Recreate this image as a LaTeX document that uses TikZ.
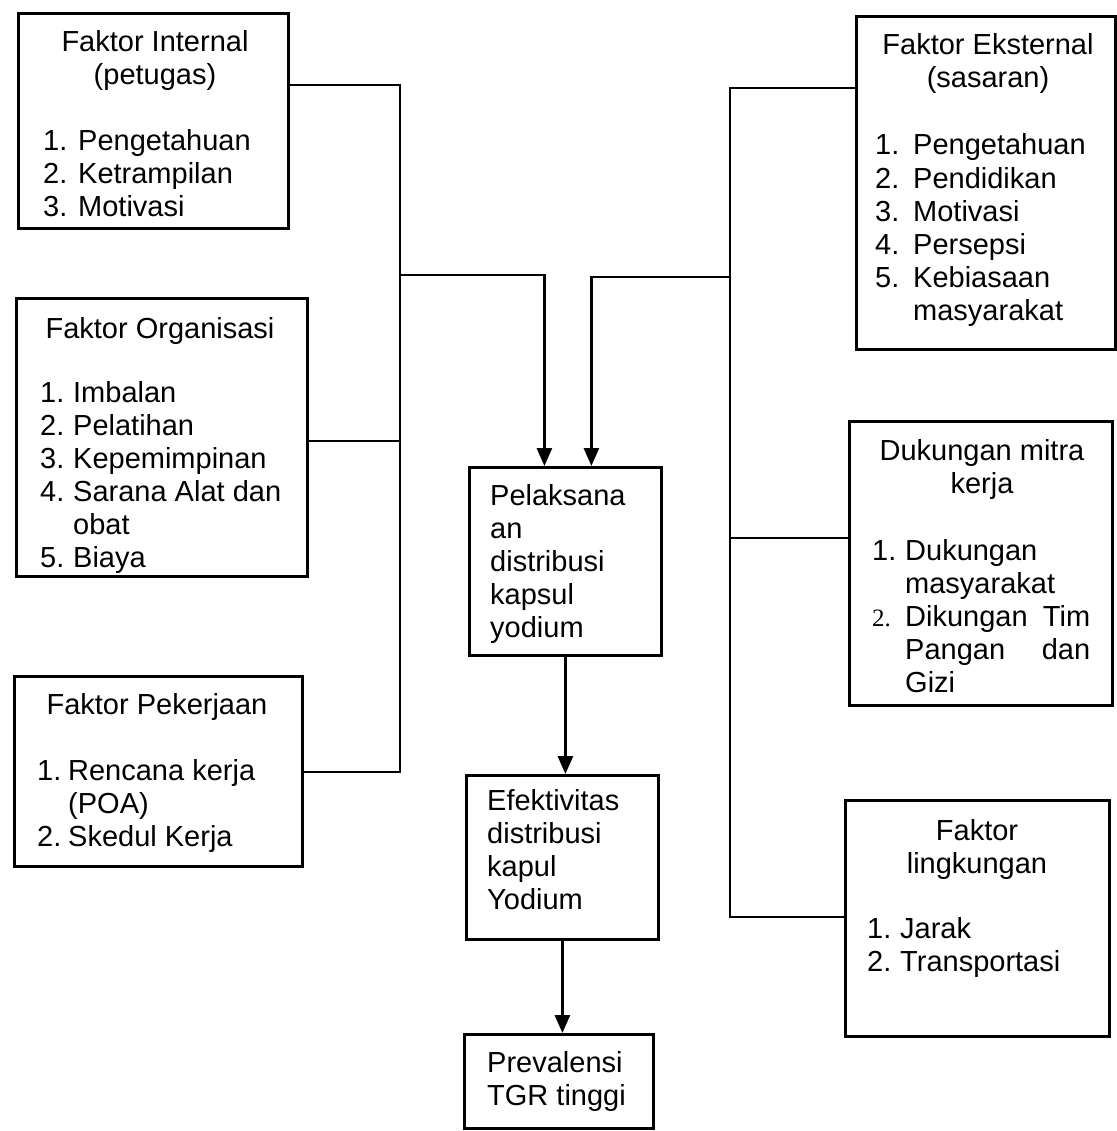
\documentclass[tikz,border=0pt]{standalone}
\usepackage{fontspec}
\setmainfont{Liberation Sans}
\newfontfamily\numserif{Liberation Serif}
\usetikzlibrary{arrows.meta}
% fixed-width slot for a list number
\newcommand\numlbl[2]{\makebox[#1pt][l]{#2}}
\begin{document}
% text nodes are placed by the baseline of their last line
\begin{tikzpicture}[x=1pt,y=-1pt,
  box/.style={draw,line width=2.8pt,rectangle,inner sep=0pt,anchor=north west},
  txt/.style={inner sep=0pt,anchor=base west,align=left,font=\fontsize{29}{33}\selectfont},
  ttl/.style={inner sep=0pt,anchor=base,align=center,font=\fontsize{29}{33}\selectfont},
  link/.style={line width=2.8pt},
  arr/.style={line width=2.8pt,-{Triangle[length=18pt,width=15pt]}}]
\useasboundingbox (0,0) rectangle (1116,1131);

% ---------- left column ----------
\node[box,minimum width=270pt,minimum height=215pt] (int) at (17,12) {};
\node[ttl] (intT) at (155,85) {Faktor Internal\\(petugas)};
\node[txt] (intL) at (43,217) {\numlbl{35}{1.}Pengetahuan\\\numlbl{35}{2.}Ketrampilan\\\numlbl{35}{3.}Motivasi};

\node[box,minimum width=291pt,minimum height=278pt] (org) at (15,297) {};
\node[ttl] (orgT) at (160,338) {Faktor Organisasi};
\node[txt] (orgL) at (40,567) {\numlbl{33}{1.}Imbalan\\\numlbl{33}{2.}Pelatihan\\\numlbl{33}{3.}Kepemimpinan\\\numlbl{33}{4.}Sarana Alat dan\\\hspace*{33pt}obat\\\numlbl{33}{5.}Biaya};

\node[box,minimum width=288pt,minimum height=190pt] (pek) at (13,675) {};
\node[ttl] (pekT) at (157,714) {Faktor Pekerjaan};
\node[txt] (pekL) at (37,846) {\numlbl{31}{1.}Rencana kerja\\\hspace*{31pt}(POA)\\\numlbl{31}{2.}Skedul Kerja};

% ---------- centre column ----------
\node[box,minimum width=192pt,minimum height=188pt] (pel) at (468,466) {};
\node[txt] (pelT) at (490,637) {Pelaksana\\an\\distribusi\\kapsul\\yodium};

\node[box,minimum width=192pt,minimum height=164pt] (efe) at (465,774) {};
\node[txt] (efeT) at (487,909) {Efektivitas\\distribusi\\kapul\\Yodium};

\node[box,minimum width=189pt,minimum height=94pt] (pre) at (463,1033) {};
\node[txt] (preT) at (487,1105) {Prevalensi\\TGR tinggi};

% ---------- right column ----------
\node[box,minimum width=259pt,minimum height=333pt] (eks) at (855,15) {};
\node[ttl] (eksT) at (988,88) {Faktor Eksternal\\(sasaran)};
\node[txt] (eksL) at (875,320) {\numlbl{38}{1.}Pengetahuan\\\numlbl{38}{2.}Pendidikan\\\numlbl{38}{3.}Motivasi\\\numlbl{38}{4.}Persepsi\\\numlbl{38}{5.}Kebiasaan\\\hspace*{38pt}masyarakat};

\node[box,minimum width=263pt,minimum height=284pt] (duk) at (848,420) {};
\node[ttl] (dukT) at (982,493) {Dukungan mitra\\kerja};
\node[txt] (dukL) at (872,692) {\numlbl{33}{1.}Dukungan\\\hspace*{33pt}masyarakat\\\numlbl{33}{\numserif\fontsize{25}{33}\selectfont 2.}\makebox[185pt][s]{Dikungan\hfill Tim}\\\hspace*{33pt}\makebox[185pt][s]{Pangan\hfill dan}\\\hspace*{33pt}Gizi};

\node[box,minimum width=264pt,minimum height=236pt] (lin) at (844,799) {};
\node[ttl] (linT) at (977,873) {Faktor\\lingkungan};
\node[txt] (linL) at (867,971) {\numlbl{33}{1.}Jarak\\\numlbl{33}{2.}Transportasi};

% ---------- connectors ----------
\coordinate (lt) at (400,85);
\coordinate (lm) at (400,441);
\coordinate (lb) at (400,772);
\coordinate (lj) at (400,275);
\draw[link] (lt -| int.east) -- (lt) -- (lb) -- (lb -| pek.east);
\draw[link] (lm -| org.east) -- (lm);
\draw[arr] (lj) -| ([xshift=-21pt]pel.north);

\coordinate (rt) at (730,88);
\coordinate (rm) at (730,538);
\coordinate (rb) at (730,917);
\coordinate (rj) at (730,277);
\draw[link] (rt -| eks.west) -- (rt) -- (rb) -- (rb -| lin.west);
\draw[link] (rm) -- (rm -| duk.west);
\draw[arr] (rj) -| ([xshift=26pt]pel.north);

\draw[arr] (pel.south) -- (pel.south |- efe.north);
\draw[arr] (efe.south) -- (efe.south |- pre.north);
\end{tikzpicture}
\end{document}
